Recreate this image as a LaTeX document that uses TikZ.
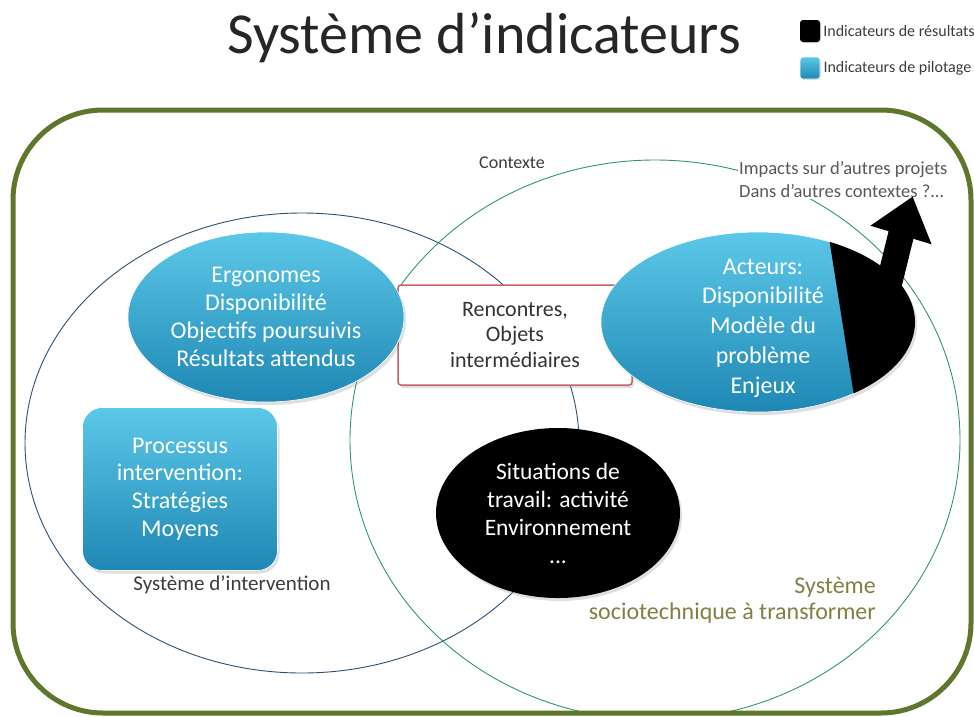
\documentclass[tikz,border=0pt]{standalone}
\usepackage{fontspec}
\setmainfont{Carlito}
\usetikzlibrary{shapes.geometric, shadows, positioning}

\definecolor{framegreen}{RGB}{95,118,45}
\definecolor{bluetop}{RGB}{92,200,232}
\definecolor{bluebot}{RGB}{30,135,180}
\definecolor{lineblue}{RGB}{45,80,115}
\definecolor{lineteal}{RGB}{55,145,125}
\definecolor{olivetext}{RGB}{130,128,70}
\definecolor{boxred}{RGB}{200,95,105}
\definecolor{textgray}{RGB}{60,60,60}

\tikzset{
  softshadow/.style={drop shadow={opacity=0.25, shadow xshift=2pt, shadow yshift=-3pt}},
  bluefill/.style={top color=bluetop, bottom color=bluebot, draw=white, line width=0.6pt},
  blueellipse/.style={ellipse, bluefill, softshadow, inner sep=0pt, text=white, align=center,
    font=\fontsize{24}{28}\selectfont},
  bluebox/.style={rectangle, rounded corners=20pt, bluefill, softshadow, inner sep=0pt, text=white,
    align=center, font=\fontsize{24}{27.7}\selectfont},
  legendbox/.style={rectangle, rounded corners=3pt, minimum width=20pt, minimum height=22pt, inner sep=0pt,
    drop shadow={opacity=0.3, shadow xshift=1pt, shadow yshift=-1pt}},
  legendblack/.style={legendbox, fill=black},
  legendblue/.style={legendbox, bluefill},
  legendtext/.style={anchor=west, inner sep=0pt, text=textgray, font=\fontsize{16}{18}\selectfont},
  plaintext/.style={inner sep=1pt, text=textgray, align=center}
}

\begin{document}
\begin{tikzpicture}[x=1pt, y=-1pt]
\useasboundingbox (0,0) rectangle (974,716);

% Title and legend
\node[plaintext, text=black!85, font=\fontsize{58}{66}\selectfont] (title) at (484,38) {Système d’indicateurs};
\foreach \sty/\txt/\y in {legendblack/Indicateurs de résultats/31, legendblue/Indicateurs de pilotage/68}
{
    \node[\sty] (key\y) at (810,\y) {};
    \node[legendtext, right=3pt of key\y] (keytext\y) {\txt};
}

% Frame (Contexte) and the two systems
\fill[white, rounded corners=90pt] (13,110) rectangle (971,713);
\begin{scope}
    \clip[rounded corners=90pt] (13,110) rectangle (971,713);
    \draw[lineblue, line width=0.9pt] (302,443) ellipse [x radius=277, y radius=230];
    \draw[lineteal, line width=0.9pt] (655,440) ellipse [x radius=305, y radius=280];
\end{scope}
\draw[framegreen, line width=5pt, rounded corners=90pt] (13,110) rectangle (971,713);

% Labels
\node[plaintext, font=\fontsize{18}{20}\selectfont] (contexte) at (512,163) {Contexte};
\node[plaintext, fill=white, anchor=west, align=left, text=black!65, font=\fontsize{18.5}{23}\selectfont]
    (impacts) at (738,180) {Impacts sur d’autres projets\\Dans d’autres contextes ?...};
\node[plaintext, font=\fontsize{21}{24}\selectfont] (sysinter) at (232,585) {Système d’intervention};
\node[plaintext, anchor=east, align=right, text=olivetext, font=\fontsize{24}{26}\selectfont]
    (syssocio) at (877,600) {Système\\sociotechnique à transformer};

% Meeting box
\node[draw=boxred, fill=white, line width=1.5pt, rounded corners=3pt, minimum width=234pt, minimum height=100pt,
    plaintext, text=black!80, font=\fontsize{22}{25.5}\selectfont, softshadow]
    (rencontres) at (515,335) {Rencontres,\\Objets\\intermédiaires};

% Blue shapes
\node[blueellipse, minimum width=276pt, minimum height=170pt] (ergonomes) at (266,317)
    {Ergonomes\\Disponibilité\\Objectifs poursuivis\\Résultats attendus};
\node[bluebox, minimum width=195pt, minimum height=163pt] (processus) at (180,489)
    {Processus\\intervention:\\Stratégies\\Moyens};
\node[blueellipse, minimum width=314pt, minimum height=180pt] (acteurs) at (758,322) {};

% Result part of Acteurs and the arrow
\begin{scope}
    \clip (acteurs.center) ellipse [x radius=157, y radius=90];
    \fill[black] (823,200) -- (861,440) -- (1000,440) -- (1000,200) -- cycle;
\end{scope}
\fill[black] (872.6,296.2) -- (888.6,231.2) -- (870.4,225.7) -- (912.6,196.7)
    -- (931.6,244.3) -- (913.4,238.8) -- (897.4,303.8) -- cycle;
\node[plaintext, text=white, font=\fontsize{24}{29.7}\selectfont] (acteurstext) at (763,328)
    {Acteurs:\\Disponibilité\\Modèle du\\problème\\Enjeux};

% Work situations
\node[ellipse, fill=black, softshadow, minimum width=244pt, minimum height=170pt, inner sep=0pt,
    text=white, align=center, font=\fontsize{23.5}{28}\selectfont]
    (situations) at (558,513) {Situations de\\travail: activité\\Environnement\\...};

\end{tikzpicture}
\end{document}
